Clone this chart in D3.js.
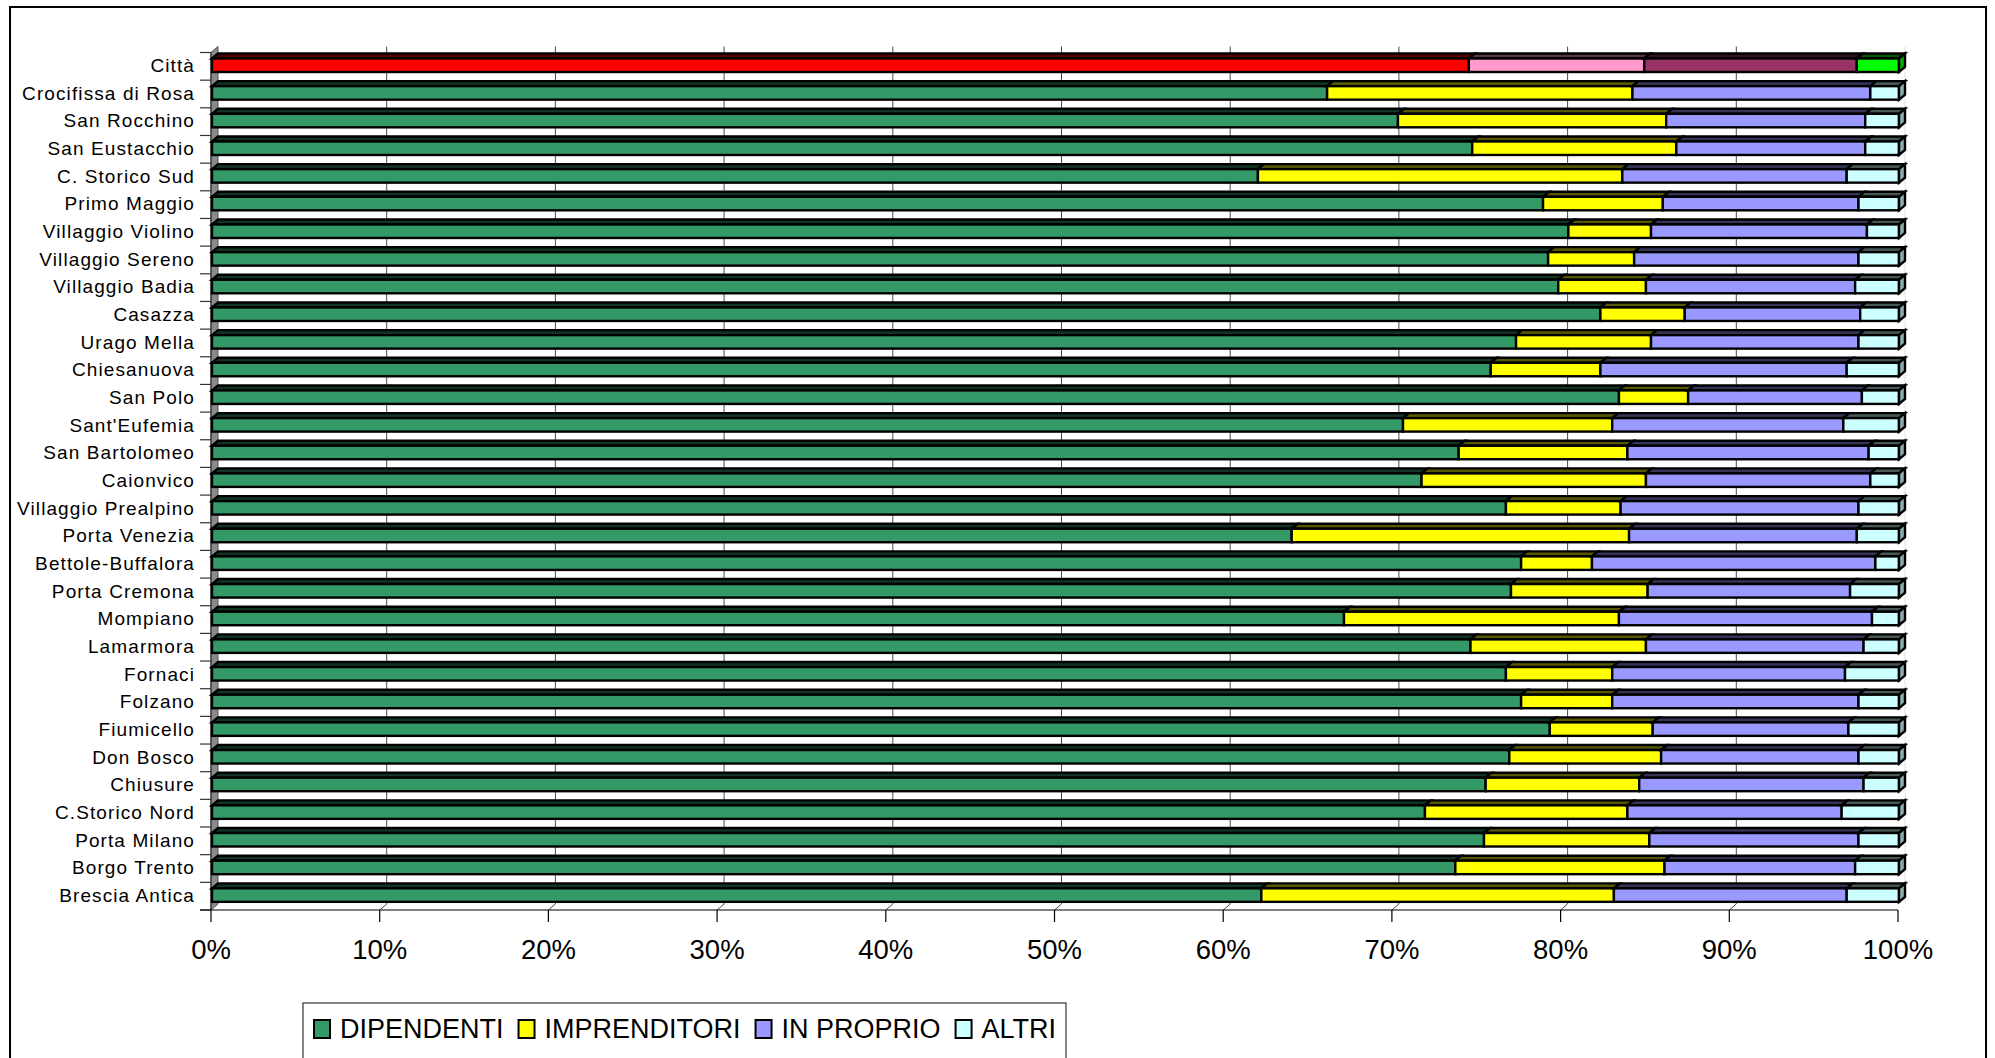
<!DOCTYPE html>
<html>
<head>
<meta charset="utf-8">
<script src="https://cdn.jsdelivr.net/npm/d3@7"></script>
<style>
  html, body { margin: 0; padding: 0; background: #fff; }
  svg { display: block; font-family: "Liberation Sans", Arial, sans-serif; }
</style>
</head>
<body>
<svg id="chart" width="1995" height="1058"></svg>
<script>
// Zone (quartieri) of Brescia, top to bottom
const categories = [
  "Città", "Crocifissa di Rosa", "San Rocchino", "San Eustacchio", "C. Storico Sud",
  "Primo Maggio", "Villaggio Violino", "Villaggio Sereno", "Villaggio Badia", "Casazza",
  "Urago Mella", "Chiesanuova", "San Polo", "Sant'Eufemia", "San Bartolomeo",
  "Caionvico", "Villaggio Prealpino", "Porta Venezia", "Bettole-Buffalora", "Porta Cremona",
  "Mompiano", "Lamarmora", "Fornaci", "Folzano", "Fiumicello",
  "Don Bosco", "Chiusure", "C.Storico Nord", "Porta Milano", "Borgo Trento",
  "Brescia Antica"
];

// Share of workers by professional position (%)
const dipendenti = [
  74.5, 66.1, 70.3, 74.7, 62.0, 78.9, 80.4, 79.2, 79.8, 82.3,
  77.3, 75.8, 83.4, 70.6, 73.9, 71.7, 76.7, 64.0, 77.6, 77.0,
  67.1, 74.6, 76.7, 77.6, 79.3, 76.9, 75.5, 71.9, 75.4, 73.7,
  62.2
];
const imprenditori = [
  10.4, 18.1, 15.9, 12.1, 21.6, 7.1, 4.9, 5.1, 5.2, 5.0,
  8.0, 6.5, 4.1, 12.4, 10.0, 13.3, 6.8, 20.0, 4.2, 8.1,
  16.3, 10.4, 6.3, 5.4, 6.1, 9.0, 9.1, 12.0, 9.8, 12.4,
  20.9
];
const inProprio = [
  12.6, 14.1, 11.8, 11.2, 13.3, 11.6, 12.8, 13.3, 12.4, 10.4,
  12.3, 14.6, 10.3, 13.7, 14.3, 13.3, 14.1, 13.5, 16.8, 12.0,
  15.0, 12.9, 13.8, 14.6, 11.6, 11.7, 13.3, 12.7, 12.4, 11.3,
  13.8
];
const altri = [
  2.5, 1.7, 2.0, 2.0, 3.1, 2.4, 1.9, 2.4, 2.6, 2.3,
  2.4, 3.1, 2.2, 3.3, 1.8, 1.7, 2.4, 2.5, 1.4, 2.9,
  1.6, 2.1, 3.2, 2.4, 3.0, 2.4, 2.1, 3.4, 2.4, 2.6,
  3.1
];

const seriesNames = ["DIPENDENTI", "IMPRENDITORI", "IN PROPRIO", "ALTRI"];
const seriesColors = ["#339966", "#ffff00", "#9999ff", "#ccffff"];
// the city-wide total row uses its own palette
const cityColors = ["#ff0000", "#ff99cc", "#993366", "#00ff00"];
const xTicks = [0, 10, 20, 30, 40, 50, 60, 70, 80, 90, 100];

const rows = categories.map((c, i) => ({
  cat: c,
  "DIPENDENTI": dipendenti[i],
  "IMPRENDITORI": imprenditori[i],
  "IN PROPRIO": inProprio[i],
  "ALTRI": altri[i]
}));
const stacked = d3.stack().keys(seriesNames)(rows);

const svg = d3.select("#chart");

// outer frame
svg.append("rect")
  .attr("x", 10).attr("y", 7).attr("width", 1976).attr("height", 1100)
  .attr("fill", "#fff").attr("stroke", "#000").attr("stroke-width", 2);

const x = d3.scaleLinear().domain([0, 100]).range([211, 1898]);
const y = d3.scaleBand().domain(categories).range([52.5, 910]);

// 3D offsets: walls and bars
const wd = { dx: 7, dy: -6 };
const bd = { dx: 6, dy: -5 };
const yTop = 52.5, yBot = 910;

const plot = svg.append("g");

// back wall gridlines
plot.append("g").selectAll("line")
  .data(xTicks.filter(t => t > 0 && t < 100))
  .join("line")
  .attr("x1", d => x(d) + wd.dx).attr("x2", d => x(d) + wd.dx)
  .attr("y1", yTop + wd.dy).attr("y2", yBot + wd.dy)
  .attr("stroke", "#4a4a4a").attr("stroke-width", 1);

// right edge of the back wall
plot.append("line")
  .attr("x1", x(100) + wd.dx).attr("x2", x(100) + wd.dx)
  .attr("y1", yTop + wd.dy).attr("y2", yBot + wd.dy)
  .attr("stroke", "#e2e2e2").attr("stroke-width", 1);

// floor gridlines
plot.append("g").selectAll("line")
  .data(xTicks.filter(t => t > 0 && t < 100))
  .join("line")
  .attr("x1", d => x(d)).attr("x2", d => x(d) + wd.dx)
  .attr("y1", yBot).attr("y2", yBot + wd.dy)
  .attr("stroke", "#4a4a4a").attr("stroke-width", 1);

// side wall on the category axis
plot.append("polygon")
  .attr("points", [
    [x(0), yTop], [x(0) + wd.dx, yTop + wd.dy],
    [x(0) + wd.dx, yBot + wd.dy], [x(0), yBot]
  ].map(p => p.join(",")).join(" "))
  .attr("fill", "#8a8a8a").attr("stroke", "#555").attr("stroke-width", 1);

// category axis line and ticks
plot.append("line")
  .attr("x1", x(0)).attr("x2", x(0)).attr("y1", yTop).attr("y2", yBot)
  .attr("stroke", "#333").attr("stroke-width", 1.2);
const bandEdges = categories.map(c => y(c)).concat([yBot]);
plot.append("g").selectAll("line")
  .data(bandEdges)
  .join("line")
  .attr("x1", 200).attr("x2", x(0))
  .attr("y1", d => d).attr("y2", d => d)
  .attr("stroke", "#333").attr("stroke-width", 1.2);

// value axis line and ticks
plot.append("line")
  .attr("x1", 200).attr("x2", x(100)).attr("y1", yBot).attr("y2", yBot)
  .attr("stroke", "#000").attr("stroke-width", 1.2);
plot.append("g").selectAll("line")
  .data(xTicks)
  .join("line")
  .attr("x1", d => x(d)).attr("x2", d => x(d))
  .attr("y1", yBot).attr("y2", yBot + 12)
  .attr("stroke", "#000").attr("stroke-width", 1.2);

// value tick labels
svg.append("g").selectAll("text")
  .data(xTicks)
  .join("text")
  .attr("x", d => x(d)).attr("y", 959)
  .attr("text-anchor", "middle")
  .attr("font-size", 27.5)
  .attr("fill", "#000")
  .text(d => d + "%");

// category labels
svg.append("g").selectAll("text")
  .data(categories)
  .join("text")
  .attr("x", 195)
  .attr("y", d => y(d) + 19.6)
  .attr("text-anchor", "end")
  .attr("font-size", 19)
  .attr("letter-spacing", "1.1px")
  .attr("fill", "#000")
  .text(d => d);

// 3D stacked bars
const faceTop = c => y(c) + 6;
const faceH = 13.5;
const pts = arr => arr.map(p => p.join(",")).join(" ");
const colorFor = (cat, k) => (cat === "Città" ? cityColors : seriesColors)[k];

const bars = svg.append("g")
  .attr("stroke", "#000").attr("stroke-width", 2.4).attr("stroke-linejoin", "miter");

categories.forEach((cat, i) => {
  const g = bars.append("g");
  const t = faceTop(cat);
  stacked.forEach((layer, k) => {
    const d = layer[i];
    const x0 = x(d[0]) + 1, x1 = x(d[1]) + 1;
    const col = colorFor(cat, k);
    // top face
    g.append("polygon")
      .attr("points", pts([[x0, t], [x0 + bd.dx, t + bd.dy], [x1 + bd.dx, t + bd.dy], [x1, t]]))
      .attr("fill", d3.color(col).darker(3).formatHex());
    // front face
    g.append("rect")
      .attr("x", x0).attr("y", t)
      .attr("width", x1 - x0).attr("height", faceH)
      .attr("fill", col);
    // right side face on the last segment
    if (k === stacked.length - 1) {
      g.append("polygon")
        .attr("points", pts([[x1, t], [x1 + bd.dx, t + bd.dy], [x1 + bd.dx, t + faceH + bd.dy], [x1, t + faceH]]))
        .attr("fill", d3.color(col).darker(1.1).formatHex());
    }
  });
});

// legend
const legend = svg.append("g");
legend.append("rect")
  .attr("x", 303).attr("y", 1003).attr("width", 763).attr("height", 120)
  .attr("fill", "#fff").attr("stroke", "#333").attr("stroke-width", 1.2);
let lx = 314;
seriesNames.forEach((name, k) => {
  legend.append("rect")
    .attr("x", lx).attr("y", 1020).attr("width", 16).attr("height", 18)
    .attr("fill", seriesColors[k]).attr("stroke", "#000").attr("stroke-width", 2);
  const txt = legend.append("text")
    .attr("x", lx + 26).attr("y", 1037.5)
    .attr("font-size", 27).attr("fill", "#000")
    .text(name);
  lx = lx + 26 + txt.node().getComputedTextLength() + 15;
});
</script>
</body>
</html>
